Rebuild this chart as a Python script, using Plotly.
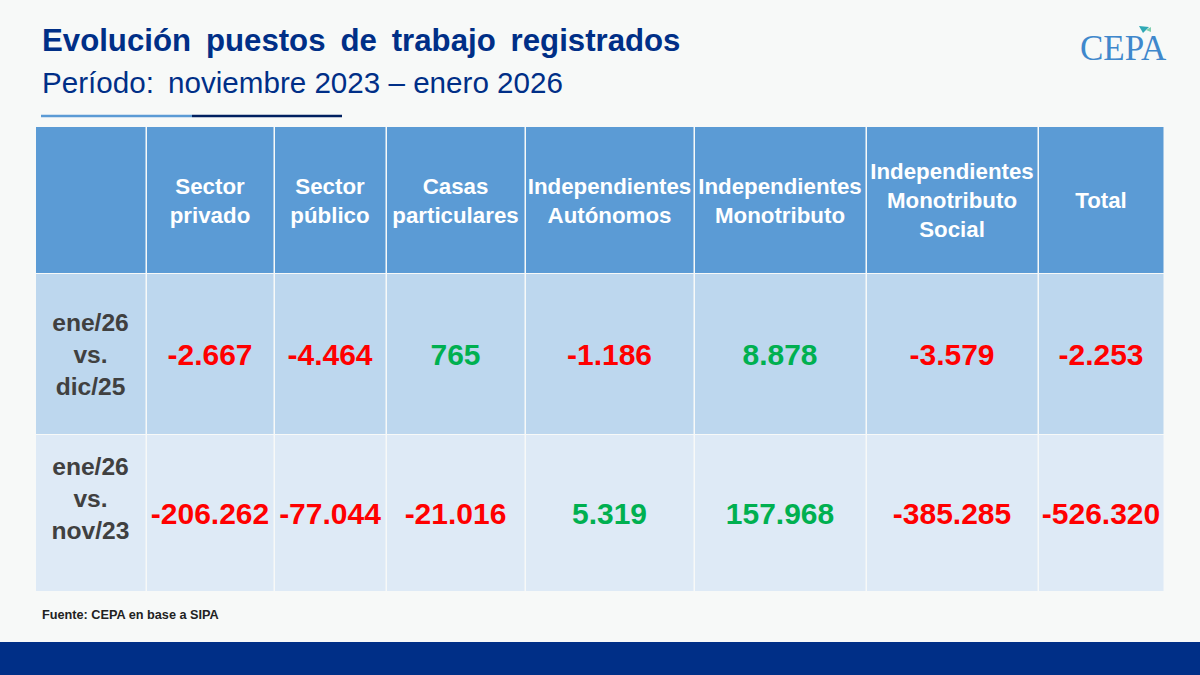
import plotly.graph_objects as go

# Table content
columns = ["Sector<br>privado", "Sector<br>público", "Casas<br>particulares",
           "Independientes<br>Autónomos", "Independientes<br>Monotributo",
           "Independientes<br>Monotributo<br>Social", "Total"]
row_labels = ["ene/26<br>vs.<br>dic/25", "ene/26<br>vs.<br>nov/23"]
vs_dic25 = [-2667, -4464, 765, -1186, 8878, -3579, -2253]
vs_nov23 = [-206262, -77044, -21016, 5319, 157968, -385285, -526320]

title = "Evolución \u2009puestos \u2009de \u2009trabajo \u2009registrados"
subtitle = "Período: \u2009noviembre 2023 – enero 2026"
source = "Fuente: CEPA en base a SIPA"

# Axes run in pixels of the slide, so the grid edges are layout
x_edges = [36, 147, 275, 387, 526, 695, 867, 1039, 1165]
y_edges = [127, 274, 435, 592]
header_y = 202.5
label_y = [356.5, 500.5]  # second label sits above the middle of its row
value_y = [357, 516]

BG = "#F7F9F8"
NAVY = "#002F87"
BLUE = "#5B9BD5"
GREEN = "#00B050"
RED = "#FF0000"
FONT = "Liberation Sans"


def fmt(v):
    return f"{v:,}".replace(",", ".")


def centers(edges):
    return [(a + b) / 2 - 1 for a, b in zip(edges, edges[1:])]


col_mid = centers(x_edges)

fig = go.Figure()

# cell backgrounds
fig.add_trace(go.Heatmap(
    x=x_edges, y=y_edges,
    z=[[0] * 8, [1] * 8, [2] * 8],
    zmin=0, zmax=2,
    colorscale=[[0, BLUE], [0.5, "#BDD7EE"], [1, "#DEEAF6"]],
    showscale=False, xgap=1.5, ygap=1, hoverinfo="skip",
))

# header
fig.add_trace(go.Scatter(
    x=col_mid[1:], y=[header_y] * 7, text=columns, mode="text",
    textfont=dict(family=FONT, size=22.3, color="white", weight="bold"),
    hoverinfo="skip",
))

# first column
fig.add_trace(go.Scatter(
    x=[col_mid[0]] * 2, y=label_y, text=row_labels, mode="text",
    textfont=dict(family=FONT, size=24.6, color="#404040", weight="bold"),
    hoverinfo="skip",
))

# values
for vals, y in zip([vs_dic25, vs_nov23], value_y):
    fig.add_trace(go.Scatter(
        x=col_mid[1:], y=[y] * 7, text=[fmt(v) for v in vals], mode="text",
        textfont=dict(family=FONT, size=30, weight="bold",
                      color=[RED if v < 0 else GREEN for v in vals]),
        hoverinfo="skip",
    ))

shapes = [
    dict(type="rect", x0=0, x1=1200, y0=642, y1=675, fillcolor=NAVY, line_width=0, layer="below"),
    dict(type="line", x0=41, x1=192, y0=116, y1=116, line=dict(color=BLUE, width=2.5)),
    dict(type="line", x0=192, x1=342, y0=116, y1=116, line=dict(color="#002060", width=2.5)),
    # small marks over the logo
    dict(type="path", path="M 1139 26 L 1149 27 L 1143 33 Z", fillcolor="#2FA9B5", line_width=0),
    dict(type="path", path="M 1146 30 L 1151 27 L 1151 32 Z", fillcolor="#7FD0B0", line_width=0),
]

annotations = [
    dict(x=40, y=40, text=f"<b>{title}</b>", showarrow=False, xanchor="left",
         font=dict(family=FONT, size=31.2, color=NAVY)),
    dict(x=40, y=82, text=subtitle, showarrow=False, xanchor="left",
         font=dict(family=FONT, size=29.6, color=NAVY)),
    dict(x=40, y=615, text=f"<b>{source}</b>", showarrow=False, xanchor="left",
         font=dict(family=FONT, size=12.7, color="#222222")),
    dict(x=1123, y=48, text="CEPA", showarrow=False,
         font=dict(family="Liberation Serif", size=35, color="#3F88CC")),
]

fig.update_layout(
    width=1200, height=675,
    margin=dict(l=0, r=0, t=0, b=0),
    paper_bgcolor=BG, plot_bgcolor=BG,
    showlegend=False,
    shapes=shapes, annotations=annotations,
    xaxis=dict(range=[0, 1200], visible=False, fixedrange=True),
    yaxis=dict(range=[675, 0], visible=False, fixedrange=True),
)

fig.write_html("out.html", config={"displayModeBar": False},
               post_script="document.body.style.margin = '0';")
